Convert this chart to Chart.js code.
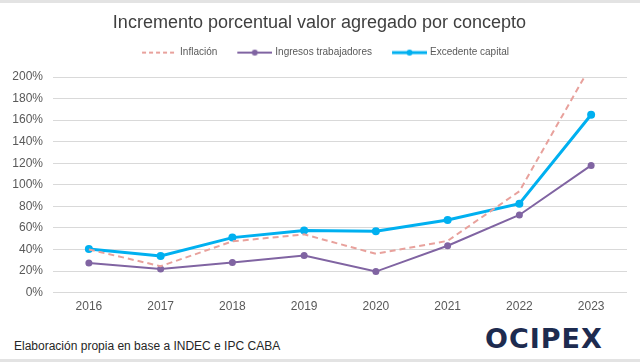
<!DOCTYPE html>
<html>
<head>
<meta charset="utf-8">
<script src="https://cdn.jsdelivr.net/npm/chart.js@4"></script>
<style>
    html, body { margin: 0; padding: 0; background: #fff; }
    #wrap {
        position: relative;
        width: 640px;
        height: 362px;
        box-sizing: border-box;
        border-top: 3px solid #e3e3e3;
        border-bottom: 3px solid #e3e3e3;
        font-family: "Liberation Sans", Arial, sans-serif;
        overflow: hidden;
    }
    #chartBox { position: absolute; left: 0; top: 0; width: 640px; height: 318px; }
    #source {
        position: absolute; left: 14px; top: 336px;
        font-size: 12px; color: #262626;
    }
    #logo {
        position: absolute; left: 485px; top: 320px;
        font-family: "DejaVu Sans", sans-serif;
        font-weight: bold; font-size: 27px; letter-spacing: 1px;
        color: #1d2b4f;
    }
</style>
</head>
<body>
<div id="wrap">
    <div id="chartBox"><canvas id="chart"></canvas></div>
    <div id="source">Elaboración propia en base a INDEC e IPC CABA</div>
    <div id="logo">OCIPEX</div>
</div>
<script>
const years = ["2016", "2017", "2018", "2019", "2020", "2021", "2022", "2023"];
const inflacion = [40, 24.5, 47.5, 54, 36, 48, 94, 211];
const ingresosTrabajadores = [27.5, 22, 28, 34.5, 19.5, 43.5, 72, 118];
const excedenteCapital = [40.5, 34, 51, 57.5, 57, 67.3, 82.5, 165];
const yTicks = [0, 20, 40, 60, 80, 100, 120, 140, 160, 180, 200];

// legend samples: a 35px line (optionally with a dot) drawn at the right of a small canvas
function legendSample(color, width, dash, dot) {
    let c = document.createElement("canvas");
    c.width = 49;
    c.height = 10;
    let g = c.getContext("2d");
    g.strokeStyle = color;
    g.lineWidth = width;
    g.setLineDash(dash);
    g.beginPath();
    g.moveTo(14, 5);
    g.lineTo(49, 5);
    g.stroke();
    if (dot) {
        g.fillStyle = color;
        g.beginPath();
        g.arc(31.5, 5, 3, 0, Math.PI * 2);
        g.fill();
    }
    return c;
}

const samples = [
    legendSample("#e8a19c", 2, [4, 3], false),
    legendSample("#8064a2", 2, [], true),
    legendSample("#00b0f0", 3, [], true)
];

// give the legend a fixed height so the plot starts lower
const legendHeight = {
    id: "legendHeight",
    beforeInit: function (chart) {
        let fit = chart.legend.fit;
        chart.legend.fit = function () {
            fit.call(this);
            this.height = 37.4;
        };
    }
};

let ctx = document.getElementById("chart").getContext("2d");

new Chart(ctx, {
    type: "line",
    data: {
        labels: years,
        datasets: [
            {
                label: "Inflación",
                data: inflacion,
                borderColor: "#e8a19c",
                backgroundColor: "#e8a19c",
                borderWidth: 2,
                borderDash: [6, 4],
                pointRadius: 0,
                tension: 0
            },
            {
                label: "Ingresos trabajadores",
                data: ingresosTrabajadores,
                borderColor: "#8064a2",
                backgroundColor: "#8064a2",
                borderWidth: 2,
                pointRadius: 3.5,
                pointBorderWidth: 0,
                tension: 0
            },
            {
                label: "Excedente capital",
                data: excedenteCapital,
                borderColor: "#00b0f0",
                backgroundColor: "#00b0f0",
                borderWidth: 3,
                pointRadius: 4,
                pointBorderWidth: 0,
                tension: 0
            }
        ]
    },
    options: {
        responsive: true,
        maintainAspectRatio: false,
        animation: false,
        layout: { padding: { left: 12, right: 13, top: 4, bottom: 0 } },
        plugins: {
            title: {
                display: true,
                text: "Incremento porcentual valor agregado por concepto",
                color: "#404040",
                font: { family: "'Liberation Sans', Arial, sans-serif", size: 18, weight: "normal" },
                padding: { top: 5, bottom: 6 }
            },
            legend: {
                position: "top",
                labels: {
                    color: "#595959",
                    font: { family: "'Liberation Sans', Arial, sans-serif", size: 10 },
                    usePointStyle: true,
                    pointStyleWidth: 45,
                    padding: 8,
                    generateLabels: function (chart) {
                        return chart.data.datasets.map(function (ds, i) {
                            return {
                                text: ds.label,
                                pointStyle: samples[i],
                                fontColor: "#595959",
                                datasetIndex: i,
                                hidden: false,
                                lineWidth: 0
                            };
                        });
                    }
                }
            },
            tooltip: { enabled: false }
        },
        scales: {
            x: {
                offset: true,
                grid: { display: false, drawTicks: false },
                border: { display: false },
                ticks: {
                    color: "#595959",
                    font: { family: "'Liberation Sans', Arial, sans-serif", size: 12 },
                    padding: 7
                }
            },
            y: {
                min: 0,
                max: 200,
                afterBuildTicks: function (axis) {
                    axis.ticks = yTicks.map(function (v) { return { value: v }; });
                },
                afterFit: function (axis) {
                    axis.width = 41;
                },
                grid: { color: "#d9d9d9", lineWidth: 1, drawTicks: false },
                border: { display: false },
                ticks: {
                    color: "#595959",
                    font: { family: "'Liberation Sans', Arial, sans-serif", size: 12 },
                    padding: 10,
                    callback: function (v) { return v + "%"; }
                }
            }
        }
    },
    plugins: [legendHeight]
});
</script>
</body>
</html>
